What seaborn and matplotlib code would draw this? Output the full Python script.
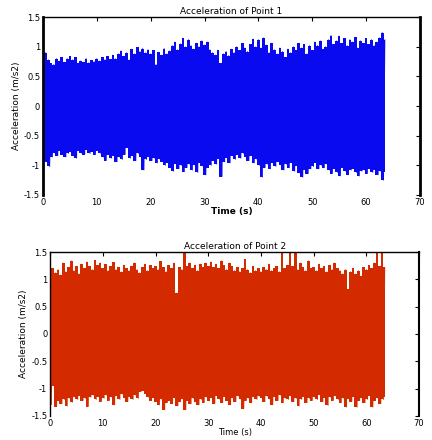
import numpy as np
import pandas as pd
import seaborn as sns
import matplotlib
matplotlib.use("Agg")
import matplotlib.pyplot as plt

# Peak values, one every 0.5 s (0 .. 63.5 s)
p1_hi = [0.80, 0.90, 0.78, 0.72, 0.70, 0.80, 0.76, 0.82, 0.74, 0.80,
         0.84, 0.78, 0.82, 0.72, 0.76, 0.74, 0.80, 0.73, 0.77, 0.75,
         0.80, 0.76, 0.82, 0.78, 0.84, 0.79, 0.86, 0.80, 0.88, 0.93,
         0.84, 0.90, 0.78, 0.96, 0.88, 0.99, 0.92, 0.97, 0.90, 0.95,
         0.88, 0.94, 0.70, 0.91, 0.86, 0.97, 0.88, 0.93, 1.02, 1.08,
         0.95, 1.05, 1.14, 1.00, 1.12, 1.02, 0.96, 1.06, 1.00, 1.10,
         1.03, 1.08, 0.95, 0.90, 0.86, 0.94, 0.72, 0.88, 0.92, 0.85,
         0.96, 0.90, 1.00, 0.94, 1.06, 0.98, 0.92, 1.04, 1.13, 1.00,
         1.12, 0.98, 1.15, 1.03, 0.90, 1.06, 0.95, 0.88, 0.98, 0.92,
         0.82, 0.96, 0.90, 1.00, 0.94, 1.06, 0.98, 1.04, 0.88, 1.02,
         0.94, 1.08, 1.02, 1.10, 0.96, 1.00, 1.12, 1.19, 1.04, 1.10,
         1.18, 1.06, 1.14, 1.02, 1.12, 1.08, 1.16, 0.98, 1.10, 1.06,
         1.14, 1.04, 1.12, 1.02, 1.08, 1.15, 1.24, 1.12]
p1_lo = [-0.78, -0.94, -1.02, -0.86, -0.80, -0.84, -0.76, -0.82, -0.86, -0.80,
         -0.78, -0.84, -0.88, -0.76, -0.80, -0.82, -0.74, -0.80, -0.77, -0.82,
         -0.76, -0.80, -0.86, -0.92, -0.82, -0.88, -0.84, -0.94, -0.86, -0.90,
         -0.82, -0.70, -0.88, -0.84, -0.92, -0.80, -0.86, -1.08, -0.90, -0.86,
         -0.92, -0.88, -0.96, -0.90, -0.94, -1.00, -0.96, -1.04, -1.10, -0.98,
         -1.06, -1.00, -1.11, -1.04, -0.98, -1.08, -1.00, -1.12, -0.96, -1.02,
         -1.16, -1.04, -1.00, -0.92, -0.98, -0.90, -1.19, -0.94, -0.88, -0.96,
         -0.84, -0.90, -0.82, -0.88, -0.80, -0.86, -0.92, -0.84, -0.96, -0.90,
         -1.00, -1.20, -1.04, -0.98, -1.06, -0.96, -1.02, -0.94, -1.00, -1.08,
         -0.98, -1.04, -0.96, -1.10, -1.02, -1.13, -1.20, -1.08, -1.14, -1.06,
         -1.02, -0.96, -1.06, -1.00, -1.04, -0.98, -1.08, -1.14, -1.06, -1.12,
         -1.18, -1.04, -1.10, -1.16, -1.08, -1.06, -1.12, -1.18, -1.10, -1.08,
         -1.14, -1.06, -1.12, -1.08, -1.16, -1.10, -1.25, -1.12]
p2_hi = [1.05, 1.20, 1.12, 1.18, 1.08, 1.30, 1.14, 1.22, 1.34, 1.16,
         1.24, 1.10, 1.28, 1.20, 1.32, 1.24, 1.18, 1.35, 1.26, 1.30,
         1.20, 1.28, 1.16, 1.24, 1.31, 1.18, 1.22, 1.14, 1.26, 1.20,
         1.16, 1.24, 1.30, 1.18, 1.12, 1.22, 1.28, 1.16, 1.26, 1.20,
         1.24, 1.18, 1.33, 1.22, 1.14, 1.26, 1.20, 1.30, 0.75, 1.22,
         1.18, 1.50, 1.24, 1.30, 1.20, 1.26, 1.16, 1.28, 1.22, 1.30,
         1.24, 1.32, 1.22, 1.28, 1.20, 1.34, 1.26, 1.18, 1.30, 1.24,
         1.16, 1.22, 1.14, 1.20, 1.37, 1.18, 1.12, 1.24, 1.16, 1.20,
         1.14, 1.22, 1.18, 1.28, 1.16, 1.20, 1.24, 1.14, 1.50, 1.20,
         1.26, 1.50, 1.24, 1.50, 1.18, 1.30, 1.22, 1.16, 1.34, 1.20,
         1.22, 1.16, 1.28, 1.20, 1.24, 1.14, 1.26, 1.18, 1.30, 1.20,
         1.16, 1.10, 1.18, 0.82, 1.14, 1.20, 1.10, 1.16, 1.06, 1.22,
         1.18, 1.26, 1.20, 1.30, 1.50, 1.24, 1.50, 1.22]
p2_lo = [-1.30, -0.95, -1.33, -1.22, -1.28, -1.20, -1.32, -1.18, -1.25, -1.16,
         -1.20, -1.14, -1.22, -1.18, -1.33, -1.16, -1.12, -1.20, -1.15, -1.24,
         -1.18, -1.12, -1.22, -1.16, -1.30, -1.14, -1.20, -1.10, -1.18, -1.24,
         -1.16, -1.20, -1.12, -1.18, -1.06, -1.04, -1.10, -1.16, -1.22, -1.18,
         -1.24, -1.30, -1.20, -1.39, -1.26, -1.22, -1.28, -1.18, -1.32, -1.24,
         -1.20, -1.39, -1.22, -1.28, -1.18, -1.24, -1.30, -1.20, -1.26, -1.16,
         -1.22, -1.18, -1.28, -1.14, -1.20, -1.26, -1.16, -1.22, -1.30, -1.18,
         -1.24, -1.14, -1.20, -1.37, -1.22, -1.18, -1.26, -1.16, -1.20, -1.14,
         -1.18, -1.24, -1.14, -1.20, -1.30, -1.16, -1.22, -1.12, -1.26, -1.18,
         -1.20, -1.14, -1.24, -1.18, -1.32, -1.20, -1.16, -1.26, -1.18, -1.22,
         -1.16, -1.20, -1.12, -1.24, -1.18, -1.31, -1.16, -1.22, -1.14, -1.20,
         -1.26, -1.18, -1.34, -1.20, -1.24, -1.16, -1.34, -1.22, -1.18, -1.26,
         -1.20, -1.14, -1.34, -1.22, -1.18, -1.28, -1.20, -1.16]

titles = ["Acceleration of Point 1", "Acceleration of Point 2"]
colors = ["#0a0af0", "#d42a00"]
yticks = [-1.5, -1, -0.5, 0, 0.5, 1, 1.5]
ytick_labels = ["-1.5", "-1", "-0.5", "0", "0.5", "1", "1.5"]
xticks = [0, 10, 20, 30, 40, 50, 60, 70]

sns.set_style("white")
plt.rcParams["font.family"] = ["DejaVu Sans"]
plt.rcParams["text.color"] = "black"
plt.rcParams["axes.labelcolor"] = "black"

fig = plt.figure(figsize=(4.32, 4.40), dpi=100)
ax1 = fig.add_axes([0.0995, 0.557, 0.8725, 0.404])
ax2 = fig.add_axes([0.116, 0.055, 0.854, 0.372])

for ax, hi, lo, title, col in zip([ax1, ax2], [p1_hi, p2_hi], [p1_lo, p2_lo], titles, colors):
    t = np.arange(len(hi)) * 0.5
    # interleave positive and negative peaks into one dense trace
    df = pd.DataFrame({
        "time": np.column_stack([t, t + 0.25]).ravel()[:-1],
        "accel": np.column_stack([hi, lo]).ravel()[:-1],
    })
    ax.fill_between(t, lo, hi, step="mid", color=col, linewidth=0)
    sns.lineplot(data=df, x="time", y="accel", ax=ax, color=col, linewidth=0.6,
                 sort=False, estimator=None)
    ax.set_xlim(0, 70)
    ax.set_ylim(-1.5, 1.5)
    ax.set_xticks(xticks)
    ax.set_xticklabels([str(v) for v in xticks])
    ax.set_yticks(yticks)
    ax.set_yticklabels(ytick_labels)
    ax.tick_params(direction="in", length=3, width=0.8, labelsize=6,
                   top=True, right=True, pad=2, colors="black")
    ax.set_title(title, fontsize=6.5, pad=2)
    ax.set_xlabel("Time (s)", fontsize=6.5, labelpad=0)
    ax.set_ylabel("Acceleration (m/s2)", fontsize=6.5, labelpad=2)
    ax.spines["bottom"].set_visible(False)
    for s in ["top", "left", "right"]:
        ax.spines[s].set_color("black")
    ax.spines["top"].set_linewidth(1)

ax1.xaxis.label.set_fontweight("bold")
ax1.spines["left"].set_linewidth(2)
ax1.spines["right"].set_linewidth(2)
ax2.spines["left"].set_linewidth(1)
ax2.spines["right"].set_linewidth(1.5)
ax2.xaxis.label.set_fontsize(6)

fig.savefig("out.png", dpi=100)
